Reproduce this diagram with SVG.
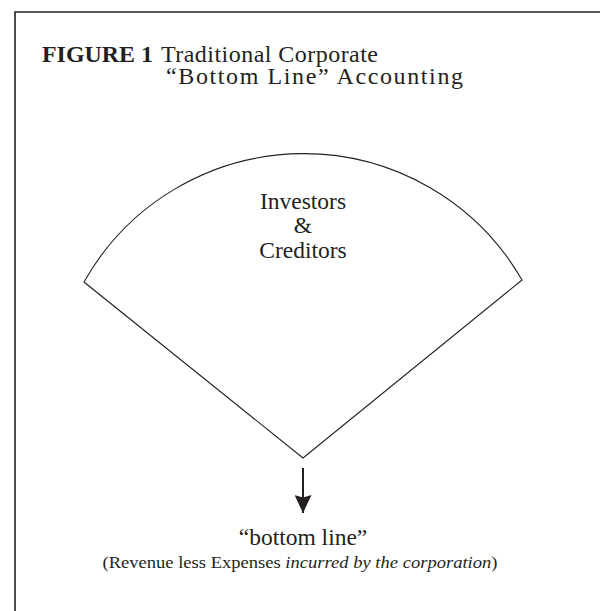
<svg xmlns="http://www.w3.org/2000/svg" width="600" height="611" viewBox="0 0 600 611">
  <style>
    .serif { font-family: "Liberation Serif", "Times New Roman", serif; fill: #231f20; }
    .title { font-size: 24px; }
    .label { font-size: 23.5px; text-anchor: middle; }
    .note { font-size: 16px; text-anchor: middle; }
    .frame { fill: none; stroke: #231f20; stroke-width: 1.6; }
    .outline { fill: none; stroke: #231f20; stroke-width: 1.1; }
  </style>
  <defs>
    <!-- arrowhead drawn pointing along +x, with a shallow notch at the back -->
    <marker id="head" markerUnits="userSpaceOnUse" markerWidth="18" markerHeight="17" refX="18" refY="8.5" orient="auto" viewBox="0 0 18 17">
      <path d="M0,0 L2.5,8.5 L0,17 L18,8.5 Z" fill="#231f20"/>
    </marker>
  </defs>
  <rect width="600" height="611" fill="#ffffff"/>

  <!-- open frame: top and left edges only -->
  <path class="frame" d="M15,611 V12 H600"/>

  <!-- heading -->
  <g id="heading" class="serif title">
    <text x="42" y="62" font-weight="bold" textLength="111" lengthAdjust="spacingAndGlyphs">FIGURE 1</text>
    <text x="161" y="62" textLength="217" lengthAdjust="spacing">Traditional Corporate</text>
    <text x="166" y="84" textLength="297" lengthAdjust="spacing">“Bottom Line” Accounting</text>
  </g>

  <!-- fan node -->
  <g id="investors">
    <path class="outline" d="M303,458 L84,282 A252,252 0 0 1 522,280 Z"/>
    <text class="serif label" x="303" y="209">Investors</text>
    <text class="serif label" x="303" y="233">&amp;</text>
    <text class="serif label" x="303" y="258">Creditors</text>
  </g>

  <!-- connector -->
  <g id="connectors">
    <line x1="303" y1="468" x2="303" y2="513" stroke="#231f20" stroke-width="2" marker-end="url(#head)"/>
  </g>

  <!-- result node -->
  <g id="bottom-line">
    <text class="serif label" x="303" y="545" font-size="23">“bottom line”</text>
    <text class="serif note" x="300" y="568" textLength="395" lengthAdjust="spacingAndGlyphs">(Revenue less Expenses <tspan font-style="italic">incurred by the corporation</tspan>)</text>
  </g>
</svg>
